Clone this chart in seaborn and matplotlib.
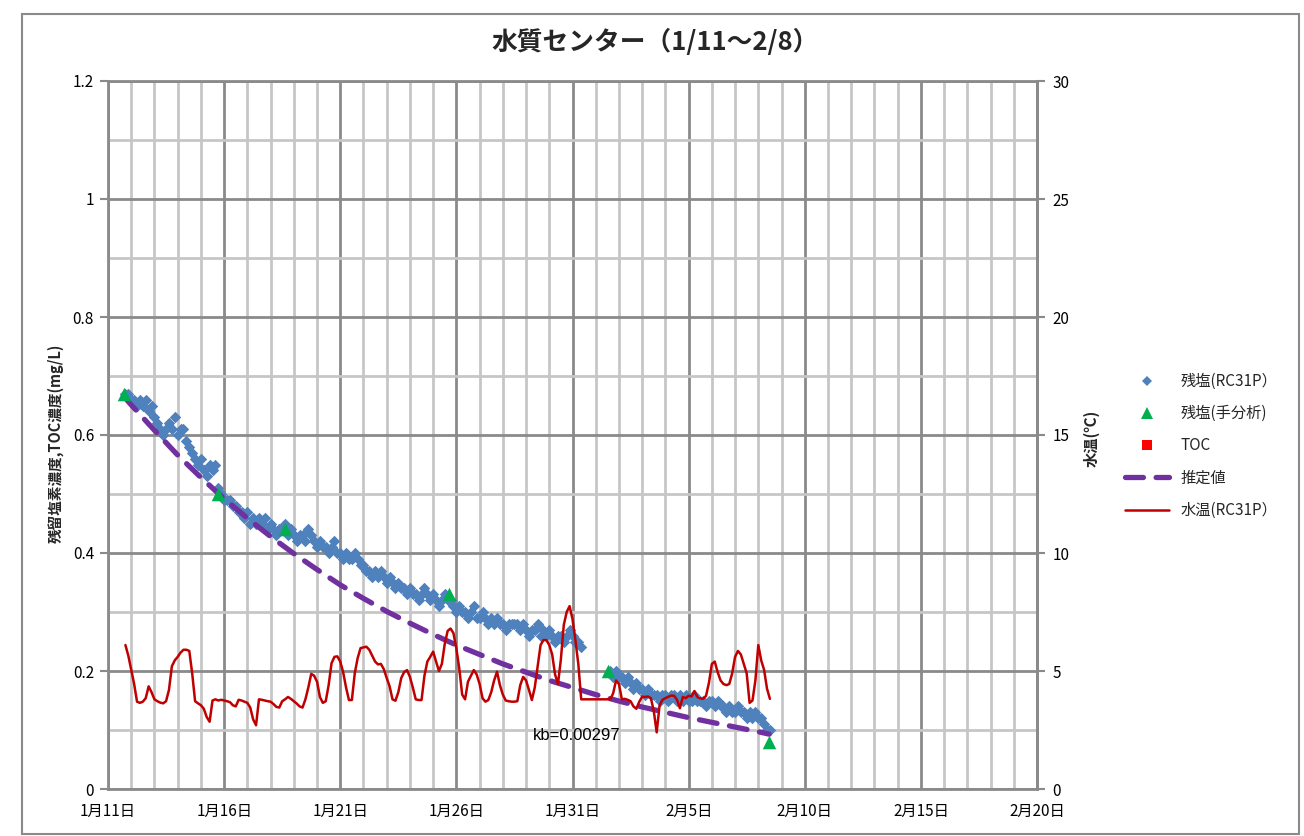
import numpy as np
import pandas as pd
import matplotlib
matplotlib.use("Agg")
import matplotlib.pyplot as plt
import matplotlib.dates as mdates
from matplotlib.lines import Line2D
from matplotlib.patches import Rectangle
from matplotlib.ticker import FixedLocator, MultipleLocator, FuncFormatter
import seaborn as sns

sns.set_style("white")
plt.rcParams["font.family"] = ["Noto Sans CJK JP", "DejaVu Sans"]

# ---- sensor readings, every 3 hours (two logging periods) ----
seg1_start = "2013-01-11 18:00"
seg2_start = "2013-02-01 15:00"
step = "3h"

# residual chlorine, RC31P (mg/L)
chlorine_seg1 = [
    0.67, 0.67, 0.66, 0.66, 0.65, 0.66, 0.65, 0.66, 0.64, 0.65,
    0.63, 0.62, 0.61, 0.60, 0.61, 0.62, 0.61, 0.63, 0.60, 0.61,
    0.61, 0.59, 0.58, 0.57, 0.56, 0.55, 0.56, 0.54, 0.53, 0.55,
    0.54, 0.55, 0.51, 0.50, 0.49, 0.49, 0.49, 0.48, 0.48, 0.47,
    0.47, 0.46, 0.47, 0.45, 0.46, 0.45, 0.46, 0.45, 0.46, 0.44,
    0.45, 0.44, 0.43, 0.44, 0.44, 0.45, 0.43, 0.44, 0.43, 0.42,
    0.43, 0.43, 0.42, 0.44, 0.43, 0.42, 0.41, 0.42, 0.41, 0.41,
    0.40, 0.41, 0.42, 0.40, 0.40, 0.39, 0.40, 0.39, 0.39, 0.40,
    0.39, 0.38, 0.38, 0.37, 0.37, 0.36, 0.37, 0.36, 0.37, 0.36,
    0.35, 0.36, 0.35, 0.34, 0.35, 0.34, 0.34, 0.33, 0.34, 0.33,
    0.33, 0.32, 0.33, 0.34, 0.33, 0.32, 0.33, 0.32, 0.31, 0.32,
    0.33, 0.32, 0.32, 0.31, 0.30, 0.31, 0.30, 0.30, 0.29, 0.30,
    0.31, 0.29, 0.29, 0.30, 0.29, 0.28, 0.29, 0.28, 0.29, 0.28,
    0.28, 0.27, 0.28, 0.28, 0.28, 0.28, 0.27, 0.28, 0.27, 0.26,
    0.27, 0.27, 0.28, 0.26, 0.27, 0.26, 0.27, 0.26, 0.25, 0.26,
    0.26, 0.25, 0.26, 0.27, 0.26, 0.25, 0.25, 0.24,
]
chlorine_seg2 = [
    0.20, 0.19, 0.20, 0.19, 0.19, 0.18, 0.19, 0.18, 0.17, 0.18,
    0.17, 0.17, 0.16, 0.17, 0.16, 0.16, 0.16, 0.15, 0.16, 0.16,
    0.15, 0.16, 0.16, 0.15, 0.16, 0.15, 0.16, 0.15, 0.15, 0.16,
    0.15, 0.15, 0.15, 0.14, 0.15, 0.15, 0.14, 0.15, 0.14, 0.14,
    0.13, 0.14, 0.13, 0.13, 0.14, 0.13, 0.13, 0.12, 0.13, 0.12,
    0.13, 0.12, 0.12, 0.11, 0.10, 0.10,
]

# water temperature, RC31P (deg C)
temp_seg1 = [
    6.10, 5.65, 5.05, 4.45, 3.70, 3.65, 3.70, 3.85, 4.35, 4.10,
    3.80, 3.72, 3.66, 3.63, 3.72, 4.20, 5.20, 5.45, 5.60, 5.78,
    5.90, 5.90, 5.85, 4.90, 3.72, 3.63, 3.55, 3.40, 3.05, 2.85,
    3.75, 3.80, 3.75, 3.78, 3.75, 3.72, 3.68, 3.55, 3.50, 3.78,
    3.75, 3.70, 3.65, 3.45, 2.95, 2.70, 3.80, 3.78, 3.75, 3.72,
    3.70, 3.60, 3.48, 3.45, 3.72, 3.80, 3.90, 3.82, 3.72, 3.62,
    3.50, 3.45, 3.80, 4.30, 4.88, 4.80, 4.55, 3.90, 3.65, 3.72,
    4.40, 5.33, 5.60, 5.62, 5.40, 4.95, 4.30, 3.77, 3.77, 4.90,
    5.55, 5.97, 6.00, 6.03, 5.90, 5.65, 5.40, 5.28, 5.30, 5.08,
    4.70, 4.35, 3.80, 3.74, 4.10, 4.70, 4.95, 5.04, 4.75, 4.30,
    3.80, 3.77, 3.77, 4.80, 5.40, 5.60, 5.82, 5.40, 5.00, 5.30,
    6.15, 6.70, 6.80, 6.60, 5.95, 5.10, 4.00, 3.80, 4.55, 4.80,
    5.04, 4.85, 4.45, 3.85, 3.70, 3.77, 4.10, 4.60, 4.97, 4.40,
    4.00, 3.75, 3.72, 3.70, 3.70, 3.72, 4.40, 4.75, 4.60, 4.20,
    3.77, 4.30, 5.20, 6.10, 6.31, 6.31, 6.10, 5.70, 4.85, 4.45,
    5.50, 6.95, 7.50, 7.75, 7.20, 6.30, 5.30, 3.80,
]
temp_seg2 = [
    3.80, 4.05, 4.60, 4.45, 3.80, 3.82, 3.78, 3.72, 3.50, 3.40,
    3.70, 3.91, 3.90, 3.92, 3.85, 3.30, 2.40, 3.55, 3.78, 3.85,
    3.91, 3.96, 3.95, 3.78, 3.42, 3.90, 3.85, 3.95, 3.92, 4.15,
    3.90, 3.84, 3.82, 3.95, 4.50, 5.30, 5.40, 4.95, 4.60, 4.45,
    4.40, 4.45, 4.90, 5.60, 5.85, 5.70, 5.30, 4.90, 3.65, 3.75,
    4.60, 6.10, 5.45, 5.05, 4.25, 3.82,
]

# manual (hand) analysis of residual chlorine
manual_times = ["2013-01-11 16:30", "2013-01-15 17:45", "2013-01-18 15:20",
                "2013-01-25 16:50", "2013-02-01 13:10", "2013-02-08 11:15"]
manual_values = [0.67, 0.50, 0.44, 0.33, 0.20, 0.08]

# estimated decay curve (kb = 0.00297 /h)
kb_text = "kb=0.00297"
est_first = ("2013-01-11 16:30", 0.665)
est_last = ("2013-02-08 11:15", 0.093)
est_daily = [0.651, 0.608, 0.566, 0.528, 0.492, 0.459, 0.428, 0.399, 0.372, 0.346,
             0.323, 0.301, 0.281, 0.262, 0.244, 0.228, 0.212, 0.198, 0.184, 0.172,
             0.160, 0.149, 0.139, 0.130, 0.121, 0.113, 0.105, 0.097]

# ---- tables ----
t1 = pd.date_range(seg1_start, periods=len(chlorine_seg1), freq=step)
t2 = pd.date_range(seg2_start, periods=len(chlorine_seg2), freq=step)
sensor = pd.DataFrame({
    "time": t1.append(t2),
    "chlorine": chlorine_seg1 + chlorine_seg2,
    "temp": temp_seg1 + temp_seg2,
})
manual = pd.DataFrame({"time": pd.to_datetime(manual_times), "value": manual_values})
est_days = pd.date_range("2013-01-12", periods=len(est_daily), freq="D")
estimate = pd.DataFrame({
    "time": [pd.Timestamp(est_first[0])] + list(est_days) + [pd.Timestamp(est_last[0])],
    "value": [est_first[1]] + est_daily + [est_last[1]],
})

# ---- colours ----
c_blue = "#4F81BD"
c_green = "#00B050"
c_toc = "#FF0000"
c_est = "#7030A0"
c_temp = "#C00000"
c_grid_major = "#8A8A8A"
c_grid_minor = "#C6C6C6"

W, H = 1304, 836
fig = plt.figure(figsize=(W / 100, H / 100), dpi=100)
left, right, top, bottom = 108, 1037, 81, 789
ax = fig.add_axes([left / W, 1 - bottom / H, (right - left) / W, (bottom - top) / H])
ax2 = ax.twinx()

# primary axis series
sns.scatterplot(data=sensor, x="time", y="chlorine", ax=ax, marker="D", s=34,
                color=c_blue, linewidth=0, legend=False, zorder=3)
sns.scatterplot(data=manual, x="time", y="value", ax=ax, marker="^", s=95,
                color=c_green, linewidth=0, legend=False, zorder=5)
sns.lineplot(data=estimate, x="time", y="value", ax=ax, color=c_est, lw=3.8,
             errorbar=None, legend=False, zorder=4)
est_line = ax.lines[-1]
est_line.set_linestyle((0, (3.4, 2.4)))
est_line.set_dash_capstyle("round")

# secondary axis: water temperature
sns.lineplot(data=sensor, x="time", y="temp", ax=ax2, color=c_temp, lw=1.8,
             errorbar=None, legend=False)

# ---- axes ----
x0, x1 = pd.Timestamp("2013-01-11"), pd.Timestamp("2013-02-20")
ax.set_xlim(x0, x1)
ax.set_ylim(0, 1.2)
ax2.set_ylim(0, 30)

major_days = mdates.date2num(pd.date_range(x0, x1, freq="5D"))
minor_days = mdates.date2num(pd.date_range(x0, x1, freq="D"))
ax.xaxis.set_major_locator(FixedLocator(major_days))
ax.xaxis.set_minor_locator(FixedLocator(minor_days))


def day_label(v, pos):
    d = mdates.num2date(v)
    return f"{d.month}月{d.day}日"


ax.xaxis.set_major_formatter(FuncFormatter(day_label))
ax.yaxis.set_major_locator(MultipleLocator(0.2))
ax.yaxis.set_minor_locator(MultipleLocator(0.1))
ax.yaxis.set_major_formatter(FuncFormatter(lambda v, p: f"{round(v, 1):g}"))
ax2.yaxis.set_major_locator(MultipleLocator(5))

ax.set_axisbelow(True)
ax.grid(which="minor", color=c_grid_minor, lw=2)
ax.grid(which="major", color=c_grid_major, lw=2)
ax2.grid(False)

ax.tick_params(which="minor", length=0)
ax.tick_params(which="major", direction="out", length=6, width=1.5,
               color=c_grid_major, labelsize=11, labelcolor="#000000", pad=4)
ax2.tick_params(which="major", direction="out", length=6, width=1.5,
                color=c_grid_major, labelsize=11, labelcolor="#000000", pad=5)

for sp in ax.spines.values():
    sp.set_color(c_grid_major)
    sp.set_linewidth(2)
for name, sp in ax2.spines.items():
    sp.set_color(c_grid_major)
    sp.set_linewidth(2)
    if name != "right":
        sp.set_visible(False)

ax.set_xlabel("")
ax.set_ylabel("")
ax2.set_ylabel("")

# ---- texts ----
fig.text(655 / W, 1 - 42 / H, "水質センター（1/11～2/8）", ha="center", va="center",
         fontsize=18.5, fontweight="bold")
fig.text(56 / W, 1 - 443 / H, "残留塩素濃度,TOC濃度(mg/L)", ha="center", va="center",
         rotation=90, fontsize=10.5, fontweight="bold")
fig.text(1092 / W, 1 - 438 / H, "水温(℃)", ha="center", va="center",
         rotation=90, fontsize=11, fontweight="bold")
ax.text(pd.Timestamp("2013-01-29 07:00"), 0.0915, kb_text, ha="left", va="center",
        fontsize=12, family=["Liberation Sans", "DejaVu Sans"], color="#000000")

# ---- legend ----
handles = [
    Line2D([], [], marker="D", color=c_blue, linestyle="None", markersize=5.5, markeredgewidth=0),
    Line2D([], [], marker="^", color=c_green, linestyle="None", markersize=9, markeredgewidth=0),
    Line2D([], [], marker="s", color=c_toc, linestyle="None", markersize=7.5, markeredgewidth=0),
    Line2D([], [], color=c_est, lw=3.8, linestyle=(0, (3.4, 2.4)), dash_capstyle="round"),
    Line2D([], [], color=c_temp, lw=1.8),
]
labels = ["残塩(RC31P）", "残塩(手分析)", "TOC", "推定値", "水温(RC31P）"]
fig.legend(handles, labels, loc="center left", bbox_to_anchor=(1125 / W, 1 - 446 / H),
           frameon=False, fontsize=11, handlelength=2.9, handletextpad=0.75,
           labelspacing=1.0, borderpad=0, borderaxespad=0)

# outer chart border
fig.patches.append(Rectangle((22 / W, 2 / H), (1299 - 22) / W, (834 - 14) / H,
                             transform=fig.transFigure, fill=False,
                             edgecolor=c_grid_major, lw=1.5))

fig.savefig("out.png", dpi=100)
